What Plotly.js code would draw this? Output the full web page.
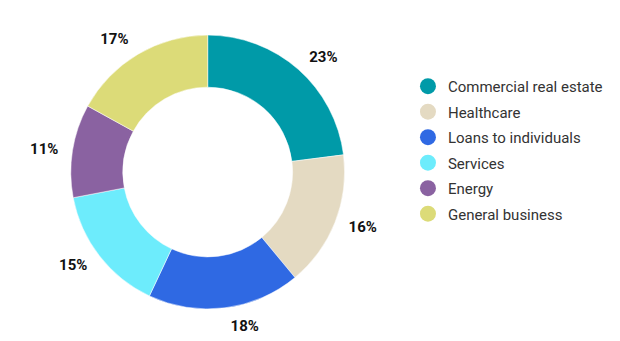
<!DOCTYPE html>
<html>
<head>
<meta charset="utf-8">
<script src="https://cdn.plot.ly/plotly-3.0.1.min.js"></script>
<style>html,body{margin:0;padding:0;background:#fff;}#chart{width:620px;height:341px;}</style>
</head>
<body>
<div id="chart"></div>
<script>
const categories = ["Commercial real estate", "Healthcare", "Loans to individuals", "Services", "Energy", "General business"];
const values = [23, 16, 18, 15, 11, 17];
const colors = ["#009aa8", "#e4dac2", "#2f69e3", "#6decfc", "#8a62a1", "#dcdb78"];

const pie = {
  type: "pie",
  labels: categories,
  values: values,
  sort: false,
  direction: "clockwise",
  rotation: 0,
  hole: 0.62,
  marker: {colors: colors, line: {color: "#ffffff", width: 0.5}},
  textinfo: "none",
  domain: {x: [0.114, 0.556], y: [0.094, 0.897]},
  showlegend: false,
  hoverinfo: "none"
};

// transparent ring carrying the outside percentage labels a bit further out
const labelRing = {
  type: "pie",
  labels: categories,
  values: values,
  sort: false,
  direction: "clockwise",
  rotation: 0,
  hole: 0.95,
  marker: {colors: categories.map(() => "rgba(0,0,0,0)"), line: {width: 0}},
  textposition: "outside",
  texttemplate: "%{value}%",
  textfont: {family: "Roboto", size: 15, color: "#111111", weight: 700},
  domain: {x: [0.0985, 0.5715], y: [0.0615, 0.9297]},
  showlegend: false,
  hoverinfo: "none"
};

const legendTraces = categories.map((c, i) => ({
  type: "scatter",
  mode: "markers",
  x: [null], y: [null],
  name: c,
  legendgroup: "g" + i,
  marker: {symbol: "circle", size: 17, color: colors[i]},
  showlegend: true,
  hoverinfo: "none"
}));

const layout = {
  width: 620, height: 341,
  margin: {l: 0, r: 0, t: 0, b: 0},
  paper_bgcolor: "#ffffff",
  plot_bgcolor: "#ffffff",
  xaxis: {visible: false},
  yaxis: {visible: false},
  showlegend: true,
  legend: {
    x: 0.658, y: 0.795, xanchor: "left", yanchor: "top",
    font: {family: "Roboto", size: 15, color: "#333333"},
    tracegroupgap: 3,
    itemsizing: "trace",
    bgcolor: "rgba(0,0,0,0)"
  }
};

Plotly.newPlot("chart", [pie, labelRing].concat(legendTraces), layout, {staticPlot: true});
</script>
</body>
</html>
